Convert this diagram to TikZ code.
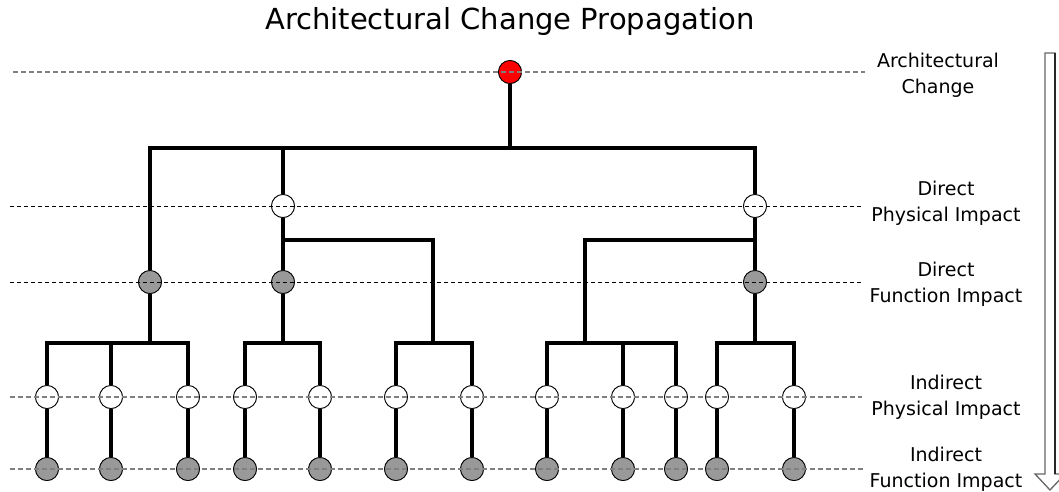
\documentclass[tikz,border=0pt]{standalone}
\usepackage{fontspec}
\setmainfont{DejaVu Sans}
\begin{document}
\begin{tikzpicture}[x=1pt,y=-1pt,
  conn/.style={line width=3.3pt},
  dot/.style={circle,draw=black,line width=0.8pt,minimum size=23pt,inner sep=0pt},
  redn/.style={dot,fill=red},
  whiten/.style={dot,fill=white},
  grayn/.style={dot,fill=black!40},
  gline/.style={draw=black!50,line width=1.3pt,dash pattern=on 5pt off 3pt},
  bline/.style={draw=black,line width=0.8pt,dash pattern=on 4pt off 3pt},
  lab/.style={font=\fontsize{19}{26}\selectfont,align=center},
]
\clip (0,0) rectangle (1059,491);
\fill[white] (0,0) rectangle (1059,491);

% title
\node[font=\fontsize{29}{35}\selectfont,anchor=base] (title) at (510,29) {Architectural Change Propagation};

% nodes
\node[redn] (r) at (510,72) {};
\node[whiten] (p1) at (283,206) {};
\node[whiten] (p2) at (755,206) {};
\node[grayn] (f1) at (150,282) {};
\node[grayn] (f2) at (283,282) {};
\node[grayn] (f3) at (755,282) {};
\foreach \k/\x in {1/47,2/111,3/188,4/245,5/320,6/396,7/472,8/547,9/623,10/676,11/717,12/794}{
  \node[whiten] (i\k) at (\x,397) {};
  \node[grayn] (g\k) at (\x,469) {};
}

% junction coordinates
\coordinate (b0) at (510,148);
\coordinate (c2) at (283,148);
\coordinate (c3) at (755,148);
\coordinate (d1) at (283,240);
\coordinate (d3) at (755,240);
\coordinate (h1) at (150,343);
\coordinate (h2) at (283,343);
\coordinate (h3) at (433,343);
\coordinate (h4) at (585,343);
\coordinate (h5) at (755,343);

% connectors
\draw[conn] (r) -- (b0);
\draw[conn] (f1) |- (c3) -- (p2);
\draw[conn] (c2) -- (p1);
\draw[conn] (p1) -- (f2);
\draw[conn] (p2) -- (f3);
\draw[conn] (d1) -| (h3);
\draw[conn] (d3) -| (h4);
\draw[conn] (f1) -- (h1);
\draw[conn] (f2) -- (h2);
\draw[conn] (f3) -- (h5);
\draw[conn] (i1) |- (h1) -| (i3);
\draw[conn] (i2) |- (h1);
\draw[conn] (i4) |- (h2) -| (i5);
\draw[conn] (i6) |- (h3) -| (i7);
\draw[conn] (i8) |- (h4) -| (i10);
\draw[conn] (i9) |- (h4);
\draw[conn] (i11) |- (h5) -| (i12);
\foreach \k in {1,...,12}{ \draw[conn] (i\k) -- (g\k); }

% nodes redrawn on top of connectors
\node[redn] at (r) {};
\node[whiten] at (p1) {};
\node[whiten] at (p2) {};
\node[grayn] at (f1) {};
\node[grayn] at (f2) {};
\node[grayn] at (f3) {};
\foreach \k in {1,...,12}{ \node[whiten] at (i\k) {}; \node[grayn] at (g\k) {}; }

% level lines
\coordinate (l0a) at (13,72);  \coordinate (l0b) at (865,72);
\coordinate (l1a) at (10,206); \coordinate (l1b) at (862,206);
\coordinate (l2a) at (10,282); \coordinate (l2b) at (862,282);
\coordinate (l3a) at (10,397); \coordinate (l3b) at (862,397);
\coordinate (l4a) at (10,469); \coordinate (l4b) at (865,469);
\draw[gline] (l0a) -- (l0b);
\draw[bline] (l1a) -- (l1b);
\draw[bline] (l2a) -- (l2b);
\draw[gline] (l3a) -- (l3b);
\draw[gline] (l4a) -- (l4b);

% labels
\node[lab] (t0) at (938,75) {Architectural\\Change};
\node[lab] (t1) at (946,203) {Direct\\Physical Impact};
\node[lab] (t2) at (946,284) {Direct\\Function Impact};
\node[lab] (t3) at (946,397) {Indirect\\Physical Impact};
\node[lab] (t4) at (946,469) {Indirect\\Function Impact};

% propagation arrow
\draw[draw=black!60,line width=1.3pt,fill=white,line join=miter]
  (1045,53) -- (1055,53) -- (1055,474) -- (1065,474) -- (1050,490) -- (1035,474) -- (1045,474) -- cycle;
\draw[black!85,line width=1.3pt] (1055,53) -- (1055,474);
\end{tikzpicture}
\end{document}
